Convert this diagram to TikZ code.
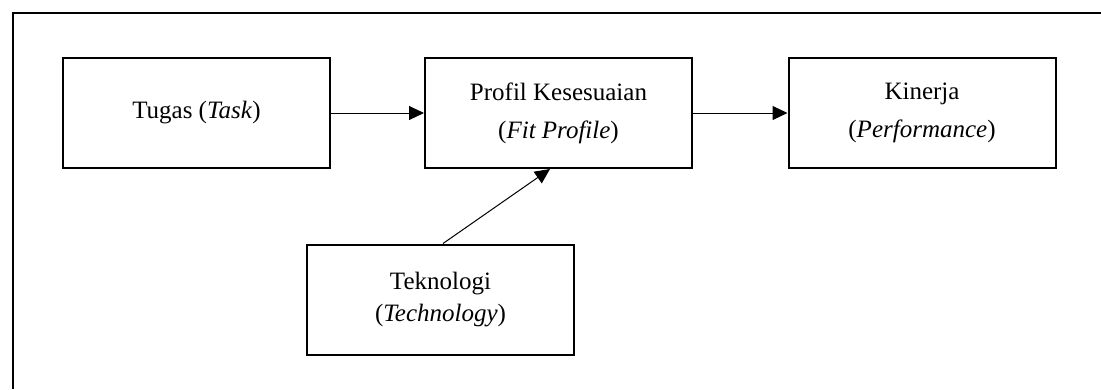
\documentclass[tikz,border=0pt]{standalone}
\usepackage{fontspec}
\setmainfont{Liberation Serif}
\usetikzlibrary{arrows.meta}
\begin{document}
\begin{tikzpicture}[x=1pt,y=-1pt,
  box/.style={draw,line width=2pt,minimum width=267pt,minimum height=110pt,inner sep=0pt,align=center,font=\fontsize{25}{38}\selectfont},
  arr/.style={line width=1pt,-{Triangle[length=15pt,width=14pt]}}]
\useasboundingbox (0,0) rectangle (1101,389);
\draw[line width=2.2pt] (13,389) -- (13,13) -- (1102,13);
\node[box] (task) at (196.5,113) {Tugas (\textit{Task})};
\node[box] (fit) at (558.5,113) {Profil Kesesuaian\\(\textit{Fit Profile})};
\node[box] (perf) at (922,113) {Kinerja\\(\textit{Performance})};
\node[box,font=\fontsize{25}{32}\selectfont] (tech) at (440.5,299.5) {Teknologi\\(\textit{Technology})};
\draw[arr] (task) -- (fit);
\draw[arr] (fit) -- (perf);
\draw[arr] ([xshift=2.5pt]tech.north) -- ([xshift=-8.5pt]fit.south);
\end{tikzpicture}
\end{document}
